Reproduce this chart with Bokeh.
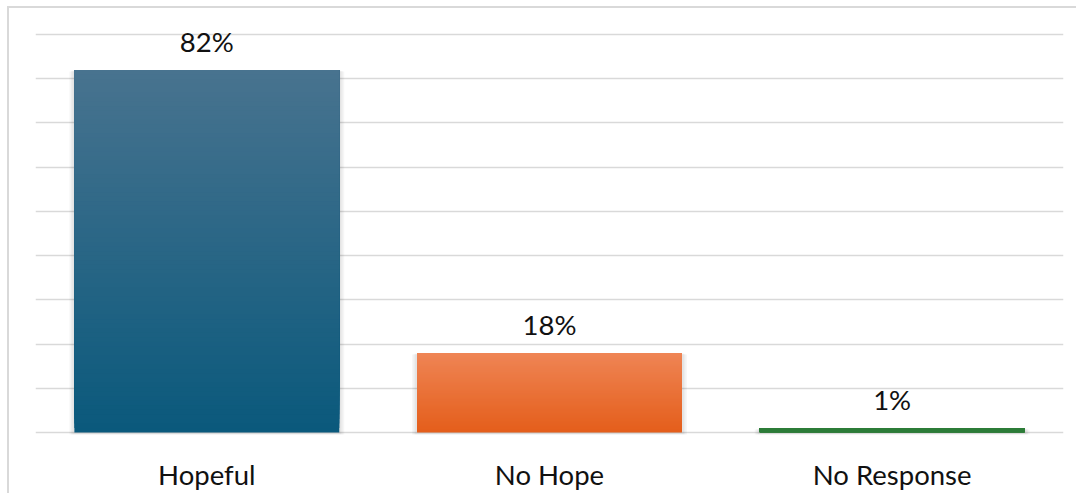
from bokeh.plotting import figure
from bokeh.models import ColumnDataSource, FixedTicker, LabelSet
from bokeh.core.properties import value
from bokeh.embed import file_html
from bokeh.resources import INLINE

# Survey responses
categories = ["Hopeful", "No Hope", "No Response"]
values = [82, 18, 1]
labels = ["82%", "18%", "1%"]

# Fill colours: (top, bottom) of each bar's vertical gradient
top_colors = ["#48738f", "#ef8555", "#2f7d3b"]
bottom_colors = ["#0a597c", "#e45e1b", "#2e7b38"]

y_ticks = list(range(0, 91, 10))
FONT = "Lato"
FONT_SIZE = "27.5px"
BAR_WIDTH = 0.773

# one screen pixel in data units
px_x = len(categories) / 1028.0
px_y = y_ticks[-1] / 397.7
PAD = 2  # pixels of room so the outer gridlines are not clipped


def hex_to_rgb(h):
    h = h.lstrip("#")
    return tuple(int(h[i:i + 2], 16) for i in (0, 2, 4))


def mix(c1, c2, t):
    a, b = hex_to_rgb(c1), hex_to_rgb(c2)
    return "#%02x%02x%02x" % tuple(round(a[i] + (b[i] - a[i]) * t) for i in range(3))


p = figure(
    width=1069, height=487,
    x_range=(0, len(categories)),
    y_range=(y_ticks[0] - PAD * px_y, y_ticks[-1] + PAD * px_y),
    output_backend="svg", toolbar_location=None,
    min_border_left=26, min_border_right=15,
    min_border_top=26 - PAD, min_border_bottom=63 - PAD,
    background_fill_color="white", border_fill_color="white",
)
p.styles = {
    "margin-left": "7px", "margin-top": "6px",
    "border-left": "2px solid #d9d9d9", "border-top": "2px solid #d9d9d9",
}
p.outline_line_color = None

# horizontal gridlines every 10%
p.yaxis.visible = False
p.ygrid.ticker = FixedTicker(ticks=y_ticks)
p.ygrid.grid_line_color = "#d9d9d9"
p.ygrid.grid_line_width = 1.6
p.xgrid.visible = False

# category axis
centers = [i + 0.5 for i in range(len(categories))]
p.xaxis.ticker = FixedTicker(ticks=centers)
p.xaxis.major_label_overrides = {c: n for c, n in zip(centers, categories)}
p.xaxis.axis_line_color = None
p.xaxis.major_tick_line_color = None
p.xaxis.minor_tick_line_color = None
p.xaxis.major_label_text_font = FONT
p.xaxis.major_label_text_font_size = FONT_SIZE
p.xaxis.major_label_text_color = "#111111"
p.xaxis.major_label_standoff = 17

# soft shadow around each bar
for spread in [5, 3.5, 2]:
    p.quad(
        left=[c - BAR_WIDTH / 2 - spread * px_x for c in centers],
        right=[c + BAR_WIDTH / 2 + spread * px_x for c in centers],
        bottom=[-spread * px_y] * len(values),
        top=[v - spread * 0.3 * px_y for v in values],
        fill_color="#000000", fill_alpha=0.035, line_color=None,
    )

# bars: overlapping layers, each reaching the bar top, give a vertical gradient
N = 80
for c, v, tc, bc in zip(centers, values, top_colors, bottom_colors):
    bottoms = [v * k / N for k in range(N)]
    cols = [mix(bc, tc, (k + 0.5) / N) for k in range(N)]
    p.quad(left=[c - BAR_WIDTH / 2] * N, right=[c + BAR_WIDTH / 2] * N,
           bottom=bottoms, top=[v] * N, fill_color=cols, line_color=None)

# value labels above bars
src = ColumnDataSource(dict(x=centers, y=values, text=labels))
p.add_layout(LabelSet(
    x="x", y="y", text="text", source=src,
    text_align="center", text_baseline="alphabetic", y_offset=18,
    text_font=value(FONT), text_font_size=FONT_SIZE, text_color="#111111",
))

open("out.html", "w").write(file_html(p, INLINE))
